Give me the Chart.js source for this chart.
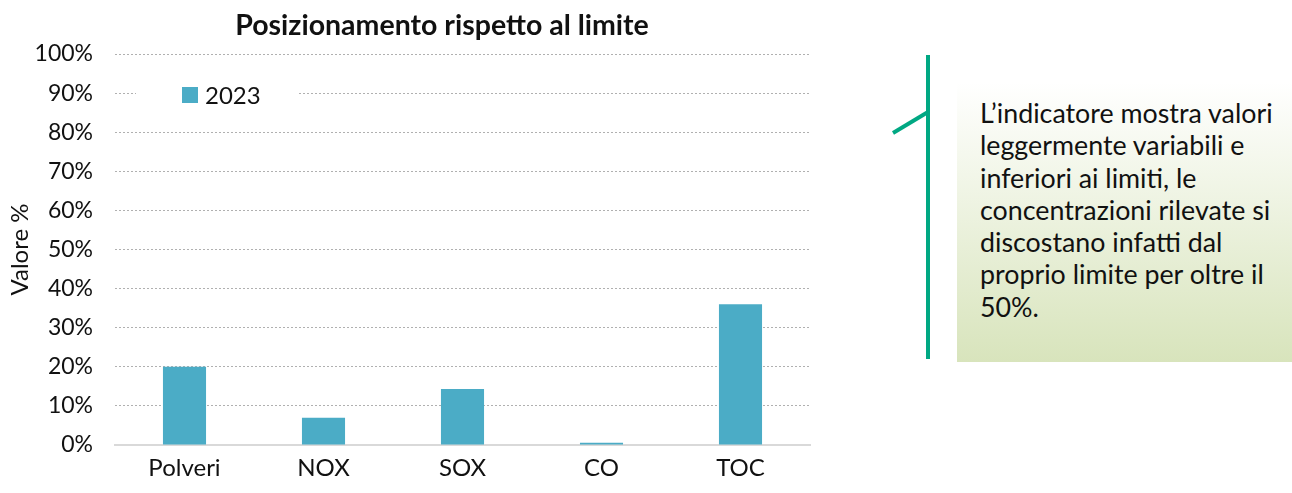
<!DOCTYPE html>
<html>
<head>
<meta charset="utf-8">
<script src="https://cdn.jsdelivr.net/npm/chart.js@4"></script>
<style>
  body { margin: 0; background: #fff; width: 1292px; height: 493px; overflow: hidden; position: relative; font-family: Lato, "Open Sans", sans-serif; }
  #wrap { position: absolute; left: 0; top: 0; width: 830px; height: 493px; }
  #note {
    position: absolute; left: 957px; top: 82px; width: 335px; height: 280px;
    background: linear-gradient(to bottom, #ffffff 0%, #d8e4bc 100%);
    box-sizing: border-box; padding: 15px 0 0 23px;
    font-size: 26.8px; line-height: 32.3px; color: #111; white-space: nowrap;
  }
  #deco { position: absolute; left: 0; top: 0; }
</style>
</head>
<body>
<div id="wrap"><canvas id="chart"></canvas></div>
<svg id="deco" width="1292" height="493">
  <line x1="928" y1="55" x2="928" y2="359" stroke="#00a883" stroke-width="4"/>
  <line x1="893" y1="133" x2="928" y2="112" stroke="#00a883" stroke-width="4"/>
</svg>
<div id="note">L’indicatore mostra valori<br>leggermente variabili e<br>inferiori ai limiti, le<br>concentrazioni rilevate si<br>discostano infatti dal<br>proprio limite per oltre il<br>50%.</div>
<script>
// dati
const categories = ['Polveri', 'NOX', 'SOX', 'CO', 'TOC'];
const values2023 = [20, 7, 14.3, 0.6, 36];
const seriesLabel = '2023';
const yTicks = [0, 10, 20, 30, 40, 50, 60, 70, 80, 90, 100];
const chartTitle = 'Posizionamento rispetto al limite';

const FONT = 'Lato, "Open Sans", sans-serif';

// titolo e legenda disegnati a mano (titolo centrato come nell'originale)
const overlay = {
  id: 'overlay',
  afterDatasetsDraw(chart) {
    const ctx = chart.ctx;
    const ds = chart.data.datasets[0];
    ctx.save();
    ctx.fillStyle = '#fff';
    ctx.fillRect(136, 78, 162, 32);
    ctx.fillStyle = ds.backgroundColor;
    ctx.fillRect(182, 87, 16, 16);
    ctx.fillStyle = '#111';
    ctx.font = '24px ' + FONT;
    ctx.textBaseline = 'middle';
    ctx.fillText(ds.label, 205, 96);

    ctx.font = 'bold 28.5px ' + FONT;
    ctx.textAlign = 'center';
    ctx.fillText(chartTitle, 442, 26);
    ctx.restore();
  }
};

new Chart(document.getElementById('chart'), {
  type: 'bar',
  data: {
    labels: categories,
    datasets: [{
      label: seriesLabel,
      data: values2023,
      backgroundColor: '#4bacc6',
      categoryPercentage: 1,
      barPercentage: 0.31
    }]
  },
  options: {
    responsive: true,
    maintainAspectRatio: false,
    animation: false,
    layout: { padding: { left: 0, right: 20, top: 54, bottom: 0 } },
    plugins: {
      legend: { display: false },
      tooltip: { enabled: false },
      title: { display: false }
    },
    scales: {
      x: {
        grid: { display: false },
        border: { color: '#d9d9d9', width: 2 },
        ticks: { color: '#111', font: { family: FONT, size: 24 }, padding: 1 },
        afterFit(s) { s.height = 48; }
      },
      y: {
        min: 0, max: 100,
        afterBuildTicks(s) { s.ticks = yTicks.map(v => ({ value: v })); },
        grid: { color: '#b0b0b0', lineWidth: 1, drawTicks: false },
        border: { display: false, dash: [2, 2] },
        ticks: {
          color: '#111', font: { family: FONT, size: 23 }, padding: 22,
          callback: v => v + '%'
        },
        title: {
          display: true, text: 'Valore %', color: '#111',
          font: { family: FONT, size: 24 }, padding: { top: 6, bottom: 0 }
        },
        afterFit(s) { s.width = 115; }
      }
    }
  },
  plugins: [overlay]
});
</script>
</body>
</html>
